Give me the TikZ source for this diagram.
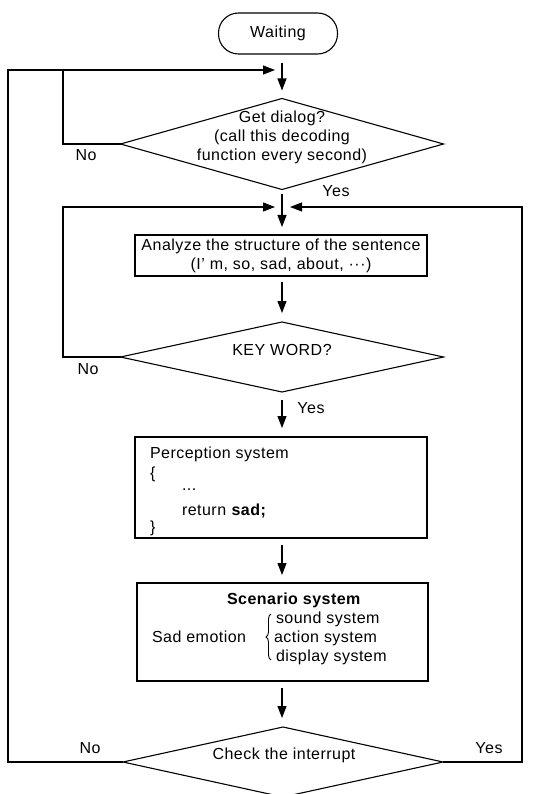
\documentclass[tikz,border=0pt]{standalone}
\usepackage{fontspec}
\setmainfont{Liberation Sans}[LetterSpace=3]
\usetikzlibrary{shapes.geometric,arrows.meta,decorations.pathreplacing}
\begin{document}
\begin{tikzpicture}[x=1pt,y=-1pt,line width=1.1pt,
  font=\fontsize{16}{19}\selectfont,
  arr/.style={-{Triangle[length=12pt,width=9pt]}},
  dia/.style={draw,diamond,inner sep=0pt,outer sep=0pt},
  box/.style={draw,rectangle,inner sep=0pt,outer sep=0pt},
  txt/.style={inner sep=0pt,outer sep=0pt,anchor=base west},
  lbl/.style={inner sep=0pt}]
\useasboundingbox (0,0) rectangle (544,794);
% nodes
\node[draw,rounded corners=20pt,minimum width=119pt,minimum height=41pt,inner sep=0pt] (w) at (278,33.5) {\raisebox{2pt}{Waiting}};
\node[dia,minimum width=323pt,minimum height=91pt] (d1) at (282,144) {};
\node[lbl,align=center] (d1t) at (282,137) {Get dialog?\\(call this decoding\\function every second)};
\node[box,minimum width=292pt,minimum height=41pt,align=center] (a) at (281,255.5) {Analyze the structure of the sentence\\(I’ m, so, sad, about, ···)};
\node[dia,minimum width=323pt,minimum height=70pt] (d2) at (282,357) {};
\node[lbl] (d2t) at (282,350) {KEY WORD?};
\node[box,minimum width=292pt,minimum height=101pt] (p) at (281,487.5) {};
\node[txt] (p1) at (150,458) {Perception system};
\node[txt] (p2) at (150,478) {\{};
\node[txt] (p3) at (182,490) {...};
\node[txt] (p4) at (182,515) {return \textbf{sad;}};
\node[txt] (p5) at (150,532) {\}};
\node[box,minimum width=291pt,minimum height=98pt] (s) at (282.5,632) {};
\node[lbl,anchor=base] (s1) at (294,604) {\textbf{Scenario system}};
\node[txt] (s2) at (152,642) {Sad emotion};
\node[txt] (s3) at (276,623) {sound system};
\node[txt] (s4) at (274,642) {action system};
\node[txt] (s5) at (276,661) {display system};
\coordinate (b1) at (271,660);
\coordinate (b2) at (271,614);
\draw[line width=0.9pt,decorate,decoration={brace,amplitude=5pt}] (b1) -- (b2);
\node[dia,minimum width=320pt,minimum height=70pt] (d3) at (283,762) {};
\node[lbl] (d3t) at (284,755) {Check the interrupt};
% labels
\node[lbl] (n1) at (86,155) {No};
\node[lbl] (y1) at (336,191) {Yes};
\node[lbl] (n2) at (88,369) {No};
\node[lbl] (y2) at (311,408) {Yes};
\node[lbl] (n3) at (90,748) {No};
\node[lbl] (y3) at (489,748) {Yes};
% coordinates
\coordinate (j1) at (275,70);
\coordinate (j2) at (275,207);
\coordinate (j3) at (290,207);
\coordinate (l1) at (8,762);
\coordinate (l2) at (8,70);
\coordinate (c1) at (63,144);
\coordinate (c2) at (63,70);
\coordinate (c3) at (63,357);
\coordinate (c4) at (63,207);
\coordinate (r1) at (522,762);
\coordinate (r2) at (522,207);
% connectors
\draw[arr,shorten <=8pt,shorten >=8pt] (w.south -| d1.north) -- (d1.north);
\draw[arr,shorten <=5pt,shorten >=8pt] (d1.south) -- (d1.south |- a.north);
\draw[arr,shorten <=6pt,shorten >=9pt] (a.south -| d2.north) -- (d2.north);
\draw[arr,shorten <=8pt,shorten >=9pt] (d2.south) -- (d2.south |- p.north);
\draw[arr,shorten <=7pt,shorten >=8pt] (p.south -| d2.south) -- (d2.south |- s.north);
\draw[arr,shorten <=7pt,shorten >=9pt] (s.south -| d2.south) -- (d2.south |- d3.north);
\draw[arr] (d3.west) -- (l1) -- (l2) -- (j1);
\draw (d1.west) -- (c1) -- (c2);
\draw[arr] (d2.west) -- (c3) -- (c4) -- (j2);
\draw[arr] (d3.east) -- (r1) -- (r2) -- (j3);
\end{tikzpicture}
\end{document}
